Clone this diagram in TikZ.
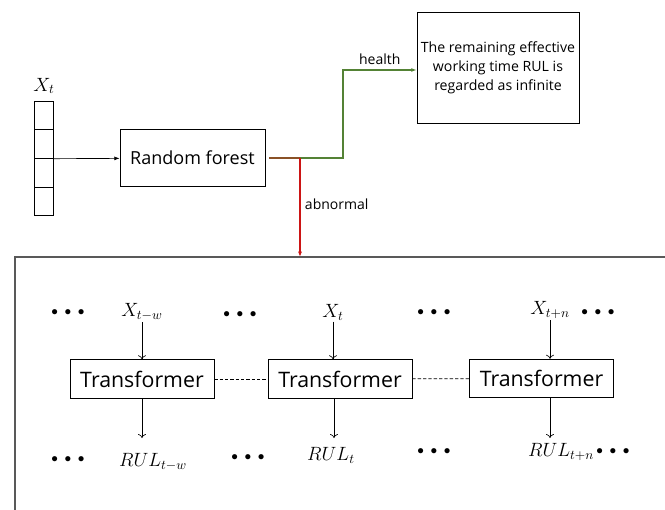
\documentclass[tikz,border=0pt]{standalone}
\usepackage{fontspec}
\setmainfont{Open Sans}
\usepackage{tikz}
\usetikzlibrary{positioning}
\usetikzlibrary{arrows.meta}

\definecolor{healthgreen}{RGB}{84,130,53}
\definecolor{abnormred}{RGB}{204,20,20}
\newcommand{\tdots}{$\bullet\;\bullet\;\bullet$}

\tikzset{
  vcell/.style={draw, line width=0.6pt, minimum width=14.25pt, minimum height=21.5pt, inner sep=0pt},
  block/.style={draw, line width=0.6pt, inner sep=0pt, align=center},
  tblock/.style={block, minimum width=108pt, minimum height=29pt, font=\fontsize{16}{19}\selectfont},
  lbl/.style={text=black, font=\fontsize{10.5}{12}\selectfont},
  mlbl/.style={font=\Large, inner sep=1pt},
  conn/.style={line width=0.5pt, -{Latex[length=4pt,width=3pt]}},
  oconn/.style={line width=0.5pt, -{To[length=3pt,width=6pt]}},
}

\begin{document}
\begin{tikzpicture}[x=0.75pt, y=-0.75pt]
  \useasboundingbox (0,0) rectangle (665,510);
  \clip (0,0) rectangle (665,510);

  % Define nodes
  \node[vcell] (c1) at (43.5,115.3) {};
  \foreach \i [count=\j from 1] in {2,3,4}
    \node[vcell, below=-0.6pt of c\j] (c\i) {};
  \node[mlbl] (xin) at (44,86) {$X_t$};

  \node[block, minimum width=108.75pt, minimum height=43.3pt,
        font=\fontsize{13.5}{16}\selectfont] (rf) at (192.5,158) {Random forest};
  \node[block, minimum width=121.5pt, minimum height=83.6pt,
        font=\fontsize{10.6}{14.5}\selectfont] (inf) at (498,67.8)
        {The remaining effective\\working time RUL is\\regarded as infinite};

  \coordinate (split) at (300,158);
  \coordinate (bend) at (343,70);
  \coordinate (ftop) at (15,257);

  \node[tblock] (t1) at (142,379) {Transformer};
  \node[tblock] (t2) at (340,379) {Transformer};
  \node[tblock] (t3) at (541.5,378.5) {Transformer};

  \node[mlbl] (x1) at (142,312) {$X_{t-w}$};
  \node[mlbl] (x2) at (333,312) {$X_t$};
  \node[mlbl] (x3) at (550,310) {$X_{t+n}$};

  \coordinate (o1) at (142,438);
  \coordinate (o2) at (334,438);
  \coordinate (o3) at (550,438);
  \node[mlbl] (r1) at (153,462) {$RUL_{t-w}$};
  \node[mlbl] (r2) at (331,455) {$RUL_t$};
  \node[mlbl] (r3) at (561,452) {$RUL_{t+n}$};

  \node (d1) at (68,313) {\tdots};
  \node (d2) at (240,315) {\tdots};
  \node (d3) at (434,313) {\tdots};
  \node (d4) at (598,313) {\tdots};
  \node (d5) at (68,460) {\tdots};
  \node (d6) at (248,458) {\tdots};
  \node (d7) at (434,452) {\tdots};
  \node (d8) at (613,452) {\tdots};

  % Frame
  \draw[line width=1pt, black!65] (ftop) rectangle (690,540);

  % Connect nodes
  \draw[conn] (c2.south east) -- (rf);
  \draw[line width=0.8pt, healthgreen!55!abnormred] ([xshift=3pt]rf.east) -- (split);
  \draw[line width=0.8pt, healthgreen, -{Latex[length=4pt,width=3pt]}]
    (split) -| (bend) -- (bend -| inf.west)
    node[lbl, pos=0.5, above] {health};
  \draw[line width=0.8pt, abnormred, -{Latex[length=4pt,width=3pt]}]
    (split) -- (split |- ftop) node[lbl, pos=0.47, right] {abnormal};

  \draw[dash pattern=on 2.5pt off 1.5pt, line width=0.5pt] (t1) -- (t2);
  \draw[dash pattern=on 2.5pt off 1.5pt, line width=0.5pt] (t2) -- (t3);

  \draw[oconn] (x1.south) -- (x1.south |- t1.north);
  \draw[oconn] (x2.south) -- (x2.south |- t2.north);
  \draw[oconn] (x3.south) -- (x3.south |- t3.north);
  \draw[oconn] (t1.south) -- (o1);
  \draw[oconn] (o2 |- t2.south) -- (o2);
  \draw[oconn] (t3.south -| o3) -- (o3);

\end{tikzpicture}
\end{document}
